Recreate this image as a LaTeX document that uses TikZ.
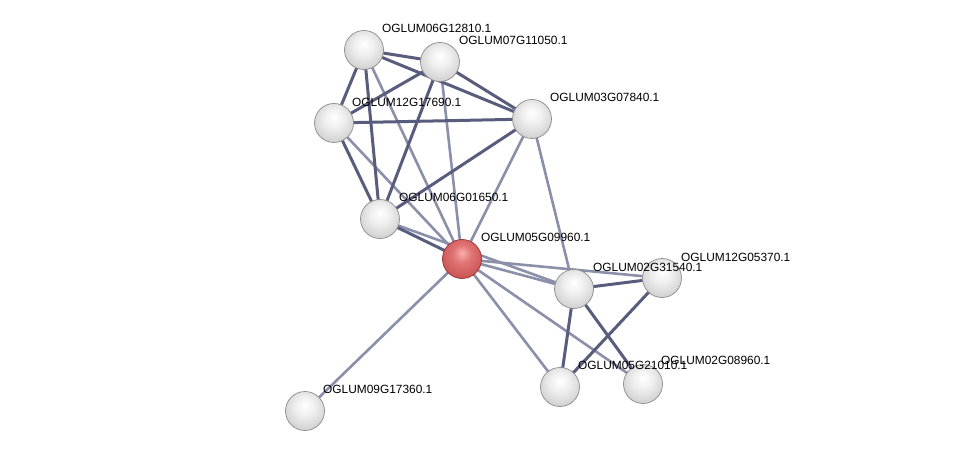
\documentclass[tikz,border=0pt]{standalone}
\usepackage{fontspec}
\setmainfont{Liberation Sans}
\pgfdeclareradialshading{whitesphere}{\pgfpoint{0bp}{8bp}}{color(0bp)=(white); color(12bp)=(white!94!black); color(26bp)=(white!84!black); color(36bp)=(white!76!black); color(42bp)=(white!64!black); color(48bp)=(white!52!black); color(60bp)=(white!45!black)}
\definecolor{redA}{RGB}{250,175,175}
\definecolor{redB}{RGB}{225,115,115}
\definecolor{redC}{RGB}{200,82,82}
\definecolor{redD}{RGB}{150,40,40}
\pgfdeclareradialshading{redsphere}{\pgfpoint{0bp}{8bp}}{color(0bp)=(redA); color(12bp)=(redB); color(30bp)=(redC); color(40bp)=(redC); color(48bp)=(redD); color(60bp)=(redD)}
\begin{document}
\begin{tikzpicture}[x=1pt,y=-1pt,
  protnode/.style={circle,minimum size=39pt,inner sep=0pt,shading=whitesphere,draw={rgb,255:red,140;green,140;blue,140},line width=0.7pt},
  rednode/.style={circle,minimum size=39pt,inner sep=0pt,shading=redsphere,draw={rgb,255:red,150;green,50;blue,50},line width=0.7pt},
  plabel/.style={anchor=west,font=\fontsize{11.9}{13}\selectfont,inner sep=0pt,text=black},
  darkedge/.style={draw={rgb,255:red,88;green,93;blue,125},line width=3pt},
  lightedge/.style={draw={rgb,255:red,138;green,143;blue,170},line width=2.6pt}]
\useasboundingbox (0,0) rectangle (975,457);
\fill[white] (0,0) rectangle (975,457);
% node positions
\coordinate (pA) at (364,50);
\coordinate (pB) at (440,62);
\coordinate (pC) at (334,123);
\coordinate (pD) at (532,119);
\coordinate (pE) at (380,219);
\coordinate (pF) at (462,259);
\coordinate (pG) at (574,289);
\coordinate (pH) at (662,278);
\coordinate (pI) at (560,387);
\coordinate (pJ) at (643,384);
\coordinate (pK) at (305,411);
% edges
\draw[lightedge] (pA) -- (pF);
\draw[lightedge] (pB) -- (pF);
\draw[lightedge] (pC) -- (pF);
\draw[lightedge] (pD) -- (pF);
\draw[lightedge] (pD) -- (pG);
\draw[lightedge] (pF) -- (pG);
\draw[lightedge] (pE) -- (pG);
\draw[lightedge] (pF) -- (pH);
\draw[lightedge] (pF) -- (pI);
\draw[lightedge] (pF) -- (pJ);
\draw[lightedge] (pF) -- (pK);
\draw[darkedge] (pA) -- (pB);
\draw[darkedge] (pA) -- (pC);
\draw[darkedge] (pA) -- (pD);
\draw[darkedge] (pA) -- (pE);
\draw[darkedge] (pB) -- (pC);
\draw[darkedge] (pB) -- (pD);
\draw[darkedge] (pB) -- (pE);
\draw[darkedge] (pC) -- (pD);
\draw[darkedge] (pC) -- (pE);
\draw[darkedge] (pD) -- (pE);
\draw[darkedge] (pE) -- (pF);
\draw[darkedge] (pG) -- (pH);
\draw[darkedge] (pG) -- (pI);
\draw[darkedge] (pG) -- (pJ);
\draw[darkedge] (pH) -- (pI);
% nodes
\node[protnode] (A) at (pA) {};
\node[protnode] (B) at (pB) {};
\node[protnode] (C) at (pC) {};
\node[protnode] (D) at (pD) {};
\node[protnode] (E) at (pE) {};
\node[rednode]  (F) at (pF) {};
\node[protnode] (G) at (pG) {};
\node[protnode] (H) at (pH) {};
\node[protnode] (I) at (pI) {};
\node[protnode] (J) at (pJ) {};
\node[protnode] (K) at (pK) {};
% labels
\node[plabel] (lA) at (382,28) {OGLUM06G12810.1};
\node[plabel] (lB) at (459,40) {OGLUM07G11050.1};
\node[plabel] (lC) at (352,102) {OGLUM12G17690.1};
\node[plabel] (lD) at (550,97) {OGLUM03G07840.1};
\node[plabel] (lE) at (399,197) {OGLUM06G01650.1};
\node[plabel] (lF) at (481,237) {OGLUM05G09960.1};
\node[plabel] (lH) at (681,257) {OGLUM12G05370.1};
\node[plabel] (lG) at (593,267) {OGLUM02G31540.1};
\node[plabel] (lJ) at (661,360) {OGLUM02G08960.1};
\node[plabel] (lI) at (578,365) {OGLUM05G21010.1};
\node[plabel] (lK) at (323,389) {OGLUM09G17360.1};
\end{tikzpicture}
\end{document}
